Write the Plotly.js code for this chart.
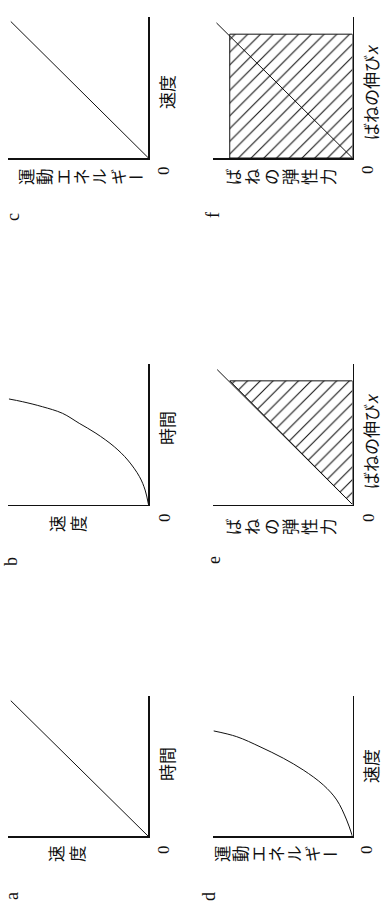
<!DOCTYPE html>
<html>
<head>
<meta charset="utf-8">
<script src="https://cdn.plot.ly/plotly-3.0.1.min.js"></script>
<style>
  html, body { margin: 0; padding: 0; background: #fff; overflow: hidden; }
  /* the scan is a landscape page turned on its side */
  #myPlot {
    position: absolute; left: 0; top: 0;
    width: 915px; height: 382px;
    transform-origin: 0 0;
    transform: translate(0, 915px) rotate(-90deg);
  }
</style>
</head>
<body>
<div id="myPlot"></div>
<script>
// a, c: straight lines through the origin
var lineAx = [0, 9.7];
var lineAy = [0, 9.8];
var lineCx = [0, 9.7];
var lineCy = [0, 9.8];

// b: speed against time (curve)
var curveBx = [0, 1.03, 1.98, 3.17, 4.11, 5.07, 5.78, 6.49, 6.96, 7.32, 7.51];
var curveBy = [0, 0.24, 0.64, 1.48, 2.43, 3.74, 4.93, 6.12, 7.55, 8.98, 9.93];

// d: kinetic energy against speed
var curveDx = [0, 1.18, 2.61, 3.68, 4.75, 5.59, 6.41, 7.13, 7.54];
var curveDy = [0, 0.42, 1.13, 2.09, 3.53, 4.96, 6.63, 8.3, 9.95];

// e: spring force line and the hatched triangle under it
var forceEx = [0, 9.6];
var forceEy = [0, 9.7];
var triEx = [0, 8.8, 8.8, 0];
var triEy = [0, 0, 8.8, 0];

// f: spring force line and the hatched rectangle
var forceFx = [0, 9.6];
var forceFy = [0, 9.75];
var rectFx = [0, 8.8, 8.8, 0, 0];
var rectFy = [0, 0, 8.8, 8.8, 0];

var W = 915, H = 382;
var jp = 'Noto Sans CJK JP';
var serif = 'Liberation Serif';

function line(x, y, n, shape) {
  return {
    x: x, y: y, xaxis: 'x' + n, yaxis: 'y' + n,
    type: 'scatter', mode: 'lines', cliponaxis: false,
    line: {color: '#111', width: 1, shape: shape || 'linear'},
    hoverinfo: 'skip'
  };
}

function hatched(x, y, n) {
  var t = line(x, y, n);
  t.fill = 'toself';
  t.fillcolor = '#fff';
  t.fillpattern = {shape: '\\', size: 9, solidity: 0.12, fgcolor: '#111', bgcolor: '#fff'};
  return t;
}

var data = [
  line(lineAx, lineAy, ''),
  line(curveBx, curveBy, 2, 'spline'),
  line(lineCx, lineCy, 3),
  line(curveDx, curveDy, 4, 'spline'),
  hatched(triEx, triEy, 5),
  line(forceEx, forceEy, 5),
  hatched(rectFx, rectFy, 6),
  line(forceFx, forceFy, 6)
];

var cols = [[0.0858, 0.2388], [0.4486, 0.6022], [0.8273, 0.9811]];
var rows = [[0.6113, 0.9791], [0.0772, 0.4424]];

function axis(domain, anchor) {
  return {
    domain: domain, anchor: anchor, range: [0, 10],
    showline: true, linecolor: '#111', linewidth: 1.5,
    showgrid: false, zeroline: false, showticklabels: false,
    ticks: '', fixedrange: true
  };
}

var annotations = [];

// u, v are pixel positions on the landscape page
function text(s, u, v, size, family) {
  annotations.push({
    text: s, x: u / W, y: 1 - v / H, xref: 'paper', yref: 'paper',
    xanchor: 'center', yanchor: 'middle', showarrow: false,
    font: {family: family || jp, size: size || 17, color: '#111'}
  });
}

// vertical (tategaki) label, one character under the other
function vtext(s, u, vTop, step) {
  Array.from(s).forEach(function (ch, i) {
    text(ch, u, vTop + step * i, 16.5);
    if (ch === 'ー') annotations[annotations.length - 1].textangle = 90;
  });
}

// a
text('a', 19, 12, 18, serif);
vtext('速度', 61, 56, 21);
text('0', 65, 163, 17, serif);
text('時間', 151, 166);
// b
text('b', 353, 11, 18, serif);
vtext('速度', 391, 57, 21);
text('0', 397, 164, 17, serif);
text('時間', 487, 167);
// c
text('c', 698, 13, 18, serif);
vtext('運動エネルギー', 738, 26, 18.3);
text('0', 744, 163, 17, serif);
text('速度', 823, 166);
// d
text('d', 18, 209, 18, serif);
vtext('運動エネルギー', 61, 222, 18);
text('0', 65, 366, 17, serif);
text('速度', 149, 370);
// e
text('e', 355, 214, 18, serif);
vtext('ばねの弾性力', 388, 233, 19);
text('0', 397, 368, 17, serif);
text('ばねの伸び<i>x</i>', 474, 370);
// f
text('f', 700, 213, 18, serif);
vtext('ばねの弾性力', 738, 233, 19);
text('0', 745, 367, 17, serif);
text('ばねの伸び<i>x</i>', 823, 370);

var layout = {
  width: W, height: H,
  margin: {l: 0, r: 0, t: 0, b: 0},
  paper_bgcolor: '#fff', plot_bgcolor: '#fff',
  showlegend: false,
  annotations: annotations
};

for (var i = 0; i < 6; i++) {
  var n = i === 0 ? '' : String(i + 1);
  var c = cols[i % 3], r = rows[Math.floor(i / 3)];
  layout['xaxis' + n] = axis(c, 'y' + n);
  layout['yaxis' + n] = axis(r, 'x' + n);
}

Plotly.newPlot('myPlot', data, layout, {staticPlot: true, displayModeBar: false});
</script>
</body>
</html>
